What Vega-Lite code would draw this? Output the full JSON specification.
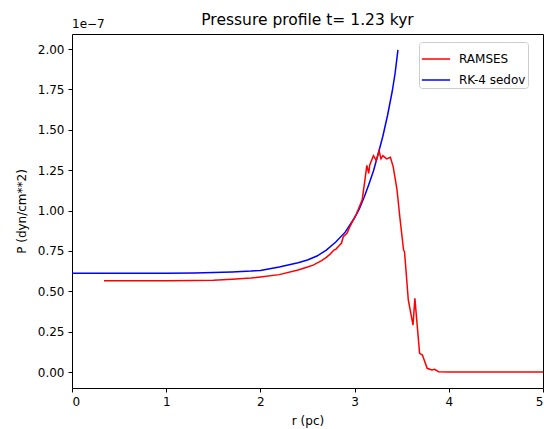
{
  "$schema": "https://vega.github.io/schema/vega-lite/v6.json",
  "width": 471,
  "height": 354,
  "autosize": {"type": "none"},
  "padding": {"left": 72, "top": 34, "right": 1, "bottom": 41},
  "background": "white",
  "config": {
    "font": "DejaVu Sans",
    "view": {"stroke": "black", "strokeWidth": 1},
    "axis": {"grid": false, "domain": false, "tickColor": "black", "tickSize": 4, "labelColor": "black", "labelFontSize": 12, "titleFontSize": 12, "titleFontWeight": "normal", "titleColor": "black", "labelFont": "DejaVu Sans", "titleFont": "DejaVu Sans"}
  },
  "title": {"text": "Pressure profile t= 1.23 kyr", "fontSize": 15.5, "fontWeight": "normal", "font": "DejaVu Sans", "color": "black", "offset": -10, "anchor": "middle"},
  "datasets": {
    "curves": [
      {"r": 0.0, "P": 0.611, "s": "RK-4 sedov"},
      {"r": 0.5, "P": 0.611, "s": "RK-4 sedov"},
      {"r": 1.0, "P": 0.612, "s": "RK-4 sedov"},
      {"r": 1.3, "P": 0.613, "s": "RK-4 sedov"},
      {"r": 1.5, "P": 0.616, "s": "RK-4 sedov"},
      {"r": 1.7, "P": 0.620, "s": "RK-4 sedov"},
      {"r": 1.9, "P": 0.625, "s": "RK-4 sedov"},
      {"r": 2.0, "P": 0.629, "s": "RK-4 sedov"},
      {"r": 2.2, "P": 0.650, "s": "RK-4 sedov"},
      {"r": 2.4, "P": 0.677, "s": "RK-4 sedov"},
      {"r": 2.5, "P": 0.694, "s": "RK-4 sedov"},
      {"r": 2.6, "P": 0.718, "s": "RK-4 sedov"},
      {"r": 2.7, "P": 0.755, "s": "RK-4 sedov"},
      {"r": 2.8, "P": 0.805, "s": "RK-4 sedov"},
      {"r": 2.9, "P": 0.866, "s": "RK-4 sedov"},
      {"r": 3.0, "P": 0.955, "s": "RK-4 sedov"},
      {"r": 3.05, "P": 1.01, "s": "RK-4 sedov"},
      {"r": 3.1, "P": 1.08, "s": "RK-4 sedov"},
      {"r": 3.15, "P": 1.16, "s": "RK-4 sedov"},
      {"r": 3.2, "P": 1.245, "s": "RK-4 sedov"},
      {"r": 3.25, "P": 1.35, "s": "RK-4 sedov"},
      {"r": 3.3, "P": 1.46, "s": "RK-4 sedov"},
      {"r": 3.35, "P": 1.59, "s": "RK-4 sedov"},
      {"r": 3.4, "P": 1.74, "s": "RK-4 sedov"},
      {"r": 3.43, "P": 1.85, "s": "RK-4 sedov"},
      {"r": 3.46, "P": 1.995, "s": "RK-4 sedov"},
      {"r": 0.34, "P": 0.565, "s": "RAMSES"},
      {"r": 0.6, "P": 0.565, "s": "RAMSES"},
      {"r": 1.0, "P": 0.565, "s": "RAMSES"},
      {"r": 1.3, "P": 0.566, "s": "RAMSES"},
      {"r": 1.5, "P": 0.568, "s": "RAMSES"},
      {"r": 1.7, "P": 0.574, "s": "RAMSES"},
      {"r": 1.9, "P": 0.582, "s": "RAMSES"},
      {"r": 2.0, "P": 0.589, "s": "RAMSES"},
      {"r": 2.2, "P": 0.603, "s": "RAMSES"},
      {"r": 2.4, "P": 0.632, "s": "RAMSES"},
      {"r": 2.5, "P": 0.650, "s": "RAMSES"},
      {"r": 2.56, "P": 0.662, "s": "RAMSES"},
      {"r": 2.62, "P": 0.68, "s": "RAMSES"},
      {"r": 2.65, "P": 0.69, "s": "RAMSES"},
      {"r": 2.7, "P": 0.71, "s": "RAMSES"},
      {"r": 2.74, "P": 0.73, "s": "RAMSES"},
      {"r": 2.78, "P": 0.755, "s": "RAMSES"},
      {"r": 2.8, "P": 0.76, "s": "RAMSES"},
      {"r": 2.84, "P": 0.785, "s": "RAMSES"},
      {"r": 2.86, "P": 0.797, "s": "RAMSES"},
      {"r": 2.88, "P": 0.838, "s": "RAMSES"},
      {"r": 2.92, "P": 0.86, "s": "RAMSES"},
      {"r": 2.95, "P": 0.9, "s": "RAMSES"},
      {"r": 3.02, "P": 0.98, "s": "RAMSES"},
      {"r": 3.08, "P": 1.065, "s": "RAMSES"},
      {"r": 3.11, "P": 1.19, "s": "RAMSES"},
      {"r": 3.13, "P": 1.28, "s": "RAMSES"},
      {"r": 3.15, "P": 1.23, "s": "RAMSES"},
      {"r": 3.16, "P": 1.28, "s": "RAMSES"},
      {"r": 3.2, "P": 1.34, "s": "RAMSES"},
      {"r": 3.23, "P": 1.31, "s": "RAMSES"},
      {"r": 3.26, "P": 1.37, "s": "RAMSES"},
      {"r": 3.28, "P": 1.32, "s": "RAMSES"},
      {"r": 3.3, "P": 1.34, "s": "RAMSES"},
      {"r": 3.34, "P": 1.32, "s": "RAMSES"},
      {"r": 3.38, "P": 1.33, "s": "RAMSES"},
      {"r": 3.41, "P": 1.27, "s": "RAMSES"},
      {"r": 3.45, "P": 1.13, "s": "RAMSES"},
      {"r": 3.48, "P": 0.96, "s": "RAMSES"},
      {"r": 3.52, "P": 0.755, "s": "RAMSES"},
      {"r": 3.53, "P": 0.745, "s": "RAMSES"},
      {"r": 3.57, "P": 0.446, "s": "RAMSES"},
      {"r": 3.62, "P": 0.29, "s": "RAMSES"},
      {"r": 3.64, "P": 0.456, "s": "RAMSES"},
      {"r": 3.66, "P": 0.32, "s": "RAMSES"},
      {"r": 3.69, "P": 0.116, "s": "RAMSES"},
      {"r": 3.72, "P": 0.105, "s": "RAMSES"},
      {"r": 3.77, "P": 0.023, "s": "RAMSES"},
      {"r": 3.82, "P": 0.012, "s": "RAMSES"},
      {"r": 3.85, "P": 0.017, "s": "RAMSES"},
      {"r": 3.89, "P": 0.002, "s": "RAMSES"},
      {"r": 4.0, "P": 0.0, "s": "RAMSES"},
      {"r": 5.0, "P": 0.0, "s": "RAMSES"}
    ],
    "offset": [{"r": 0, "P": 2.093, "t": "1e\u22127"}]
  },
  "layer": [
    {
      "data": {"name": "curves"},
      "mark": {"type": "line", "strokeWidth": 1.5, "clip": true},
      "encoding": {
        "x": {"field": "r", "type": "quantitative", "scale": {"domain": [0, 5], "nice": false, "zero": false}, "axis": {"title": "r (pc)", "values": [0, 1, 2, 3, 4, 5], "format": "d", "titlePadding": 8, "labelPadding": 4}},
        "y": {"field": "P", "type": "quantitative", "scale": {"domain": [-0.099, 2.093], "nice": false, "zero": false}, "axis": {"title": "P (dyn/cm**2)", "values": [0, 0.25, 0.5, 0.75, 1.0, 1.25, 1.5, 1.75, 2.0], "format": ".2f", "titlePadding": 9, "labelPadding": 4}},
        "color": {"field": "s", "type": "nominal", "scale": {"domain": ["RAMSES", "RK-4 sedov"], "range": ["red", "blue"]}, "legend": {"title": null, "orient": "none", "legendX": 347, "legendY": 8, "symbolType": "stroke", "symbolStrokeWidth": 1.5, "symbolSize": 800, "labelFontSize": 12, "labelFont": "DejaVu Sans", "labelColor": "black", "labelOffset": 8, "fillColor": "white", "strokeColor": "#cccccc", "cornerRadius": 3, "padding": 2, "rowPadding": -13}},
        "detail": {"field": "s"},
        "order": {"field": "r", "type": "quantitative"}
      }
    },
    {
      "data": {"name": "offset"},
      "mark": {"type": "text", "align": "left", "baseline": "bottom", "dy": -3, "fontSize": 12, "font": "DejaVu Sans", "color": "black"},
      "encoding": {
        "x": {"field": "r", "type": "quantitative"},
        "y": {"field": "P", "type": "quantitative"},
        "text": {"field": "t"}
      }
    }
  ]
}
